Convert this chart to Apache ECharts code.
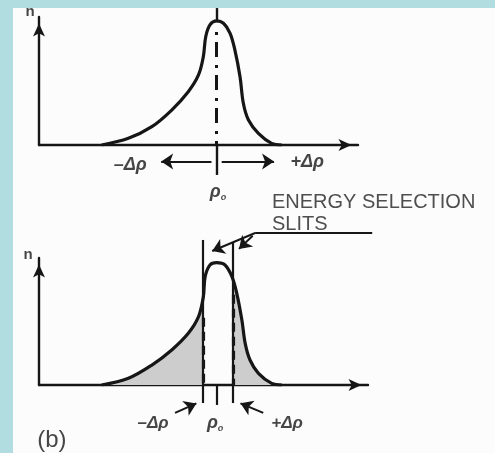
<!DOCTYPE html>
<html>
<head>
<meta charset="utf-8">
<script src="https://cdn.jsdelivr.net/npm/echarts@6/dist/echarts.min.js"></script>
<style>
html,body{margin:0;padding:0;background:#fcfcfc;}
#chart{width:495px;height:453px;}
</style>
</head>
<body>
<div id="chart"></div>
<script>
// Momentum offset from rho0 (arbitrary units) and relative particle count n.
// Upper panel: full momentum spread of the beam.
const spreadX = [-3.82, -2.93, -2.15, -1.49, -0.94, -0.60, -0.44, -0.36, -0.22, 0, 0.23, 0.45, 0.61, 0.78, 0.89, 1.06, 1.39, 1.83, 2.17];
const spreadN = [0, 5.2, 14.3, 27.3, 41.6, 54.7, 69, 84.6, 93.8, 96.9, 95.1, 87.3, 74.2, 53.4, 32.6, 19.5, 9.1, 1.3, 0];
// Lower panel (b): the same spread with energy selection slits.
const selectedX = [-3.82, -2.93, -2.15, -1.49, -0.94, -0.60, -0.44, -0.38, -0.22, 0, 0.28, 0.51, 0.67, 0.84, 0.95, 1.11, 1.39, 1.83, 2.17];
const selectedN = [0, 5.3, 15.7, 27.6, 40.7, 53.8, 69.5, 85.3, 94.5, 96.3, 94.5, 85.3, 72.2, 51.2, 32.8, 19.7, 9.2, 1.3, 0];
// Slit positions, curve height where each slit cuts the curve, and top of the dashed cut lines
const slitX = [-0.45, 0.55];
const slitEdgeN = [67, 81];
const slitDashTop = [53, 71];
// Ends of the +/- delta-rho arrows in the upper panel
const spreadEnds = [-2.04, 2.11];
const rho0 = 0;
// Text
const axisName = 'n';
const deltaMinus = '–Δρ';
const deltaPlus = '+Δρ';
const slitTitle = ['ENERGY SELECTION', 'SLITS'];
const panelTag = '(b)';

const INK = '#161616';
const SHADE = '#cdcdcd';

const grids = [
  {left: 39, top: 17, width: 319, height: 128},
  {left: 39, top: 258, width: 329, height: 127}
];
const xRanges = [[-5.9, 4.7], [-5.9, 5.03]];
const yRange = [0, 100];

// pixels per data unit for each panel, used to pull arrow ends back so tips land on target
const pxPerX = grids.map((g, i) => g.width / (xRanges[i][1] - xRanges[i][0]));
const pxPerY = grids.map(g => g.height / (yRange[1] - yRange[0]));
const ARROW = [9, 12];
function arrowSeg(panel, from, to) {
  const dxp = (to[0] - from[0]) * pxPerX[panel];
  const dyp = (to[1] - from[1]) * pxPerY[panel];
  const len = Math.sqrt(dxp * dxp + dyp * dyp);
  const k = (len - ARROW[1] / 2) / len;
  return {coords: [from, [from[0] + (to[0] - from[0]) * k, from[1] + (to[1] - from[1]) * k]]};
}

const axisLine = {
  show: true, onZero: false,
  symbol: ['none', 'arrow'], symbolSize: [9, 13], symbolOffset: [0, -6.5],
  lineStyle: {color: INK, width: 2.4}
};
function makeAxis(idx, range) {
  return {
    gridIndex: idx, type: 'value', min: range[0], max: range[1],
    axisLine: axisLine, axisTick: {show: false}, axisLabel: {show: false}, splitLine: {show: false}
  };
}

const zip = (xs, ys) => xs.map((x, i) => [x, ys[i]]);
const curveTop = zip(spreadX, spreadN);
const curveBottom = zip(selectedX, selectedN);
const shadeLeft = curveBottom.filter(p => p[0] < slitX[0]).concat([[slitX[0], slitEdgeN[0]]]);
const shadeRight = [[slitX[1], slitEdgeN[1]]].concat(curveBottom.filter(p => p[0] > slitX[1]));

const labelFont = {fontFamily: 'Liberation Sans', fontStyle: 'italic', fontWeight: 'bold', fontSize: 18, color: INK};
const rhoRich = {
  a: {fontFamily: 'Liberation Sans', fontStyle: 'italic', fontWeight: 'bold', fontSize: 18, lineHeight: 20, color: INK},
  s: {fontFamily: 'Liberation Sans', fontWeight: 'bold', fontSize: 9, lineHeight: 9, verticalAlign: 'bottom', color: INK}
};

function textItem(pos, text, extra) {
  return {value: pos, label: Object.assign({show: true, position: 'inside', formatter: text}, labelFont, extra || {})};
}

const nFont = {fontStyle: 'normal', fontWeight: 'bold', fontSize: 15};
const topTexts = [
  textItem([-6.2, 104], axisName, nFont),
  textItem([-2.87, -15.6], deltaMinus),
  textItem([3.01, -13.3], deltaPlus),
  textItem([0.05, -36.5], '{a|ρ}{s|o}', {rich: rhoRich})
];
const bottomTexts = [
  textItem([-6.26, 102.4], axisName, nFont),
  textItem([-2.11, -30], deltaMinus, {fontSize: 17}),
  textItem([-0.05, -30], '{a|ρ}{s|o}', {rich: rhoRich}),
  textItem([2.34, -30], deltaPlus, {fontSize: 17}),
  textItem([-5.47, -43.5], panelTag, {fontStyle: 'normal', fontWeight: 'normal', fontSize: 24}),
  textItem([1.84, 144.1], slitTitle[0], {fontStyle: 'normal', fontWeight: 'normal', fontSize: 20, align: 'left', color: '#222'}),
  textItem([1.84, 126], slitTitle[1], {fontStyle: 'normal', fontWeight: 'normal', fontSize: 20, align: 'left', color: '#222'})
];

const leaderY = 119.7;
const leaderStart = 1.28;
const leaderEnd = 5.17;

const option = {
  animation: false,
  backgroundColor: '#fcfcfc',
  graphic: [
    {type: 'rect', left: 0, top: 0, shape: {width: 13, height: 453}, style: {fill: '#b2dde0'}, silent: true},
    {type: 'rect', left: 0, top: 0, shape: {width: 495, height: 8}, style: {fill: '#b2dde0'}, silent: true}
  ],
  grid: grids,
  xAxis: [makeAxis(0, xRanges[0]), makeAxis(1, xRanges[1])],
  yAxis: [makeAxis(0, yRange), makeAxis(1, yRange)],
  series: [
    // shaded parts of the spread that the slits reject
    {type: 'line', xAxisIndex: 1, yAxisIndex: 1, data: shadeLeft, smooth: 0.35, symbol: 'none',
     lineStyle: {width: 0}, areaStyle: {color: SHADE, opacity: 1}, z: 1, silent: true},
    {type: 'line', xAxisIndex: 1, yAxisIndex: 1, data: shadeRight, smooth: 0.35, symbol: 'none',
     lineStyle: {width: 0}, areaStyle: {color: SHADE, opacity: 1}, z: 1, silent: true},
    // momentum distributions
    {type: 'line', xAxisIndex: 0, yAxisIndex: 0, data: curveTop, smooth: 0.35, symbol: 'none',
     lineStyle: {color: INK, width: 3.2}, z: 5, silent: true},
    {type: 'line', xAxisIndex: 1, yAxisIndex: 1, data: curveBottom, smooth: 0.35, symbol: 'none',
     lineStyle: {color: INK, width: 3.2}, z: 5, silent: true},
    // upper panel: centre line through the peak
    {type: 'lines', coordinateSystem: 'cartesian2d', xAxisIndex: 0, yAxisIndex: 0, clip: false, silent: true,
     lineStyle: {color: INK, width: 3, type: [3, 7, 15, 8], opacity: 1},
     data: [{coords: [[rho0, 88.3], [rho0, 0]]}], z: 4},
    {type: 'lines', coordinateSystem: 'cartesian2d', xAxisIndex: 0, yAxisIndex: 0, clip: false, silent: true,
     lineStyle: {color: INK, width: 2.4, opacity: 1},
     data: [{coords: [[rho0, 96], [rho0, 107]]}, {coords: [[rho0, 0], [rho0, -23.4]]}], z: 4},
    // upper panel: spread arrows
    {type: 'lines', coordinateSystem: 'cartesian2d', xAxisIndex: 0, yAxisIndex: 0, clip: false, silent: true,
     symbol: ['none', 'arrow'], symbolSize: ARROW,
     lineStyle: {color: INK, width: 2.2, opacity: 1},
     data: [arrowSeg(0, [rho0 - 0.17, -12.9], [spreadEnds[0], -12.9]),
            arrowSeg(0, [rho0 + 0.17, -12.9], [spreadEnds[1], -12.9])], z: 4},
    // lower panel: slits, centre tick and leader line
    {type: 'lines', coordinateSystem: 'cartesian2d', xAxisIndex: 1, yAxisIndex: 1, clip: false, silent: true,
     lineStyle: {color: INK, width: 2.2, opacity: 1},
     data: [{coords: [[slitX[0], -14.2], [slitX[0], 114.2]]},
            {coords: [[slitX[1], -14.2], [slitX[1], 112.6]]},
            {coords: [[rho0, 0], [rho0, -15.7]]},
            {coords: [[leaderStart, leaderY], [leaderEnd, leaderY]]}], z: 6},
    // lower panel: dashed cuts at the slits
    {type: 'lines', coordinateSystem: 'cartesian2d', xAxisIndex: 1, yAxisIndex: 1, clip: false, silent: true,
     lineStyle: {color: INK, width: 3.2, type: [9, 5], opacity: 1},
     data: [{coords: [[slitX[0], slitDashTop[0]], [slitX[0], 0]]},
            {coords: [[slitX[1], slitDashTop[1]], [slitX[1], 0]]}], z: 6},
    // lower panel: pointer arrows
    {type: 'lines', coordinateSystem: 'cartesian2d', xAxisIndex: 1, yAxisIndex: 1, clip: false, silent: true,
     symbol: ['none', 'arrow'], symbolSize: ARROW,
     lineStyle: {color: INK, width: 2, opacity: 1},
     data: [arrowSeg(1, [leaderStart, leaderY], [slitX[0] + 0.12, 103.7]),
            arrowSeg(1, [leaderStart - 0.08, leaderY - 2.2], [slitX[1] + 0.05, 103.9]),
            arrowSeg(1, [-1.38, -22], [slitX[0] - 0.04, -12.6]),
            arrowSeg(1, [1.55, -22], [slitX[1] + 0.06, -12.6])], z: 6},
    // text
    {type: 'scatter', xAxisIndex: 0, yAxisIndex: 0, symbolSize: 0, clip: false, silent: true, data: topTexts, z: 10},
    {type: 'scatter', xAxisIndex: 1, yAxisIndex: 1, symbolSize: 0, clip: false, silent: true, data: bottomTexts, z: 10}
  ]
};

const chart = echarts.init(document.getElementById('chart'), null, {renderer: 'canvas'});
chart.setOption(option);
</script>
</body>
</html>
